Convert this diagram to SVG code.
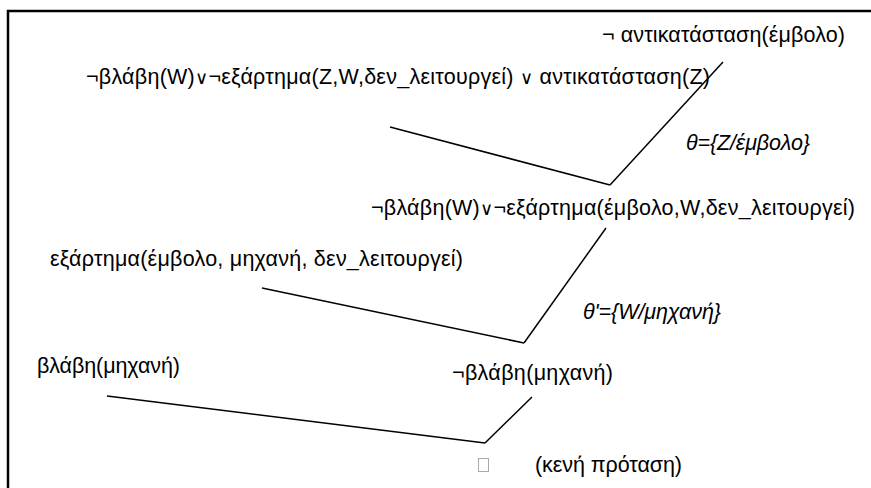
<svg xmlns="http://www.w3.org/2000/svg" width="871" height="488" viewBox="0 0 871 488">
<style>
text{font-family:"Liberation Sans",Arial,sans-serif;font-size:21.5px;fill:#000}
.it{font-style:italic}
.o{font-size:18px;font-family:"Liberation Serif","DejaVu Serif",serif}
.c line{stroke:#000;stroke-width:1.5}
</style>
<rect width="871" height="488" fill="#fff"/>
<path d="M8 488 V11 H871" fill="none" stroke="#000" stroke-width="2.5"/>
<g id="n1"><text x="602" y="42" textLength="243">¬ αντικατάσταση(έμβολο)</text></g>
<g id="n2"><text x="86" y="84" textLength="624">¬βλάβη(W)<tspan class="o">∨</tspan>¬εξάρτημα(Z,W,δεν_λειτουργεί) <tspan class="o">∨</tspan> αντικατάσταση(Z)</text></g>
<g id="n3"><text x="371" y="215" textLength="484">¬βλάβη(W)<tspan class="o">∨</tspan>¬εξάρτημα(έμβολο,W,δεν_λειτουργεί)</text></g>
<g id="n4"><text x="50" y="266" textLength="413">εξάρτημα(έμβολο, μηχανή, δεν_λειτουργεί)</text></g>
<g id="n5"><text x="37" y="373" textLength="143">βλάβη(μηχανή)</text></g>
<g id="n6"><text x="452" y="380" textLength="161">¬βλάβη(μηχανή)</text></g>
<g id="n7"><rect x="478.5" y="458.5" width="10" height="13" fill="none" stroke="#aaa" stroke-width="1"/><text x="535" y="472" textLength="147">(κενή πρόταση)</text></g>
<g id="labels">
<text class="it" x="686" y="150" textLength="124">θ={Z/έμβολο}</text>
<text class="it" x="583" y="319" textLength="138">θ'={W/μηχανή}</text>
</g>
<g class="c" id="connectors">
<line x1="390" y1="127" x2="610" y2="185"/>
<line x1="723" y1="62" x2="610" y2="185"/>
<line x1="262" y1="288" x2="524" y2="343"/>
<line x1="606" y1="228" x2="524" y2="343"/>
<line x1="107" y1="396" x2="485" y2="443"/>
<line x1="532" y1="397" x2="485" y2="443"/>
</g>
</svg>
